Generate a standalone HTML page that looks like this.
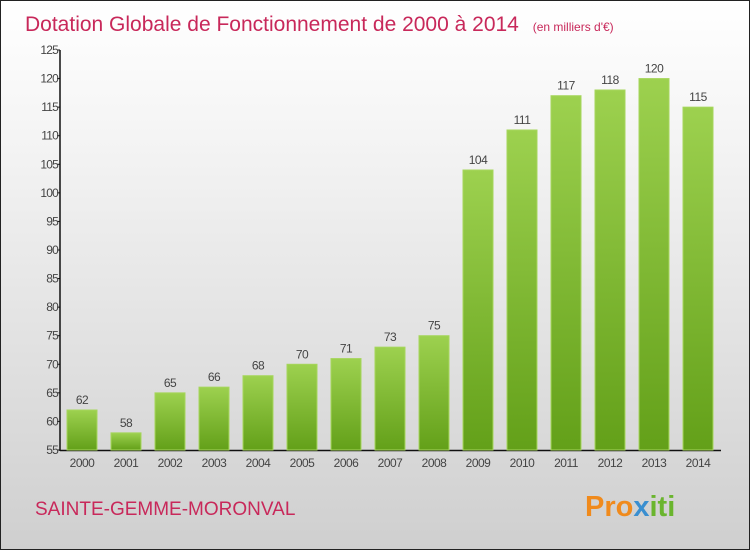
<!DOCTYPE html>
<html><head><meta charset="utf-8"><style>
body{margin:0}
#c{width:750px;height:550px;position:relative;box-sizing:border-box;border:1px solid #222;background:linear-gradient(#ffffff,#f4f4f4 25%,#cfcfcf);font-family:"Liberation Sans",sans-serif;overflow:hidden}
</style></head><body>
<div id="c">
<svg width="748" height="548" id="s">
<defs><linearGradient id="g" x1="0" y1="0" x2="0" y2="1"><stop offset="0" stop-color="#9dd14f"/><stop offset="1" stop-color="#63a019"/></linearGradient></defs>
<text x="24" y="30" font-size="21" fill="#c8285a">Dotation Globale de Fonctionnement de 2000 à 2014 <tspan font-size="12" dx="8">(en milliers d'€)</tspan></text>
<text x="34" y="514" font-size="19" fill="#c8285a">SAINTE-GEMME-MORONVAL</text>
<text x="584" y="515" font-size="29" font-weight="bold" fill="#f08a1c">Pro<tspan fill="#3a8fd0">x</tspan><tspan fill="#6ab52e">iti</tspan></text>
<g id="plot"></g>
</svg></div>
<script>
const years=["2000","2001","2002","2003","2004","2005","2006","2007","2008","2009","2010","2011","2012","2013","2014"];
const values=[62,58,65,66,68,70,71,73,75,104,111,117,118,120,115];
const yTicks=[55,60,65,70,75,80,85,90,95,100,105,110,115,120,125];
const NS="http://www.w3.org/2000/svg";
const g=document.getElementById('plot');
const y=v=>449-(v-55)*(400/70);
const x=i=>81+i*44;
function mk(t,a,txt){const e=document.createElementNS(NS,t);for(const k in a)e.setAttribute(k,a[k]);if(txt!==undefined)e.textContent=txt;g.appendChild(e);return e;}
let ax=mk('line',{x1:59,y1:49,x2:59,y2:450,stroke:'#111','stroke-width':1.5});


let bx=mk('line',{x1:59,y1:449.5,x2:720,y2:449.5,stroke:'#111','stroke-width':1.5});


yTicks.forEach(t=>{
 mk('line',{x1:56,x2:59,y1:y(t),y2:y(t),stroke:'#111'});
 const l=mk('text',{x:57,y:y(t)+4,'font-size':12,fill:'#444','text-anchor':'end','letter-spacing':'-0.8'},t);
 
 
});
values.forEach((v,i)=>{
 const r=mk('rect',{x:x(i)-15,y:y(v),width:30,height:449-y(v),fill:'url(#g)',stroke:'#a6d65c','stroke-width':1});
 
 
 const t=mk('text',{x:x(i),y:y(v)-6,'font-size':12,fill:'#444','text-anchor':'middle','letter-spacing':'-0.5'},v);
 
 
 const xl=mk('text',{x:x(i),y:466,'font-size':12,fill:'#444','text-anchor':'middle','letter-spacing':'-0.5'},years[i]);
 
 
});
</script>
</body></html>
